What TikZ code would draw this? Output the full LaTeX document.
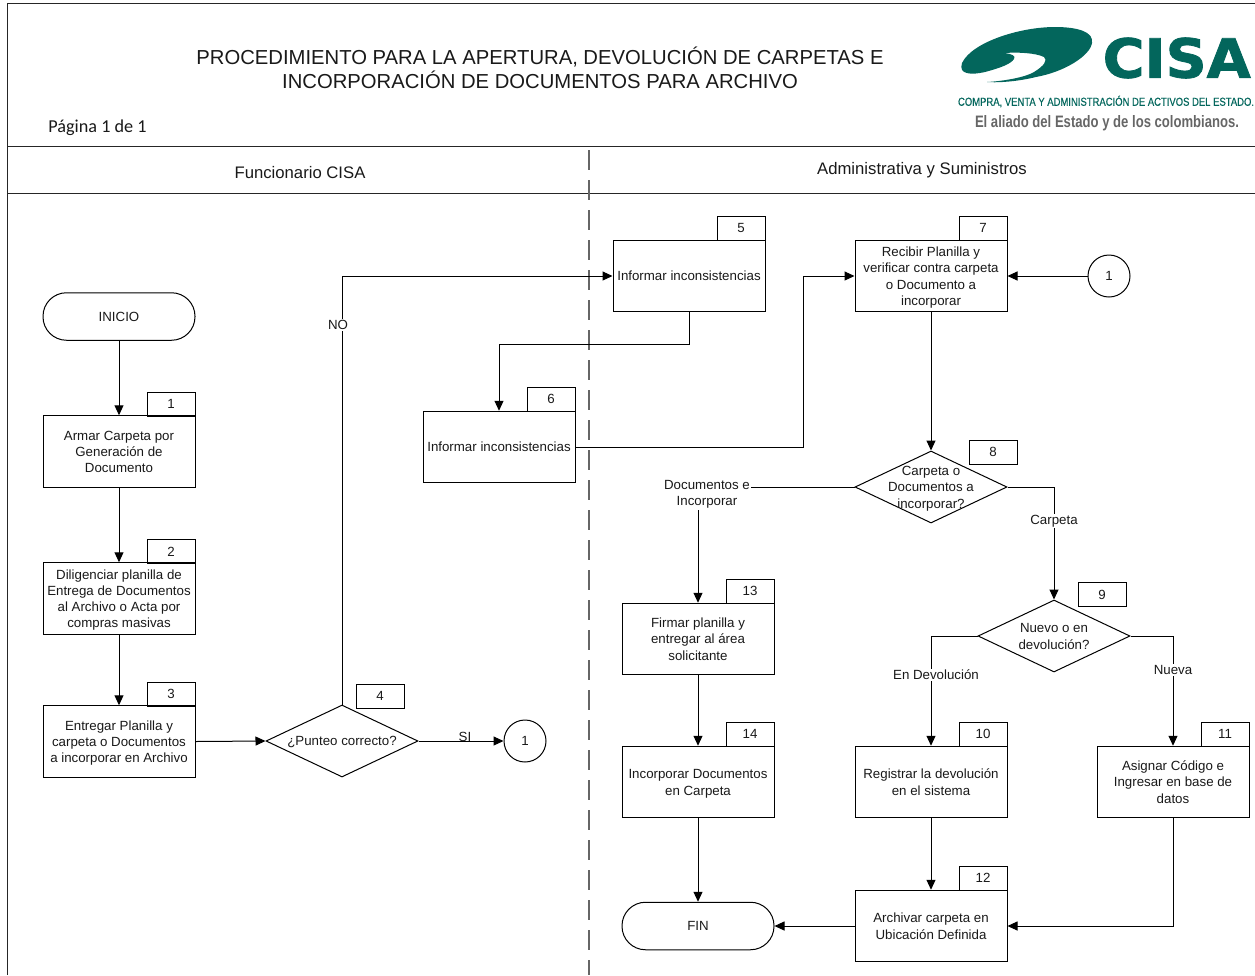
\documentclass[tikz,border=0pt]{standalone}
\usepackage{fontspec}
\setmainfont{Liberation Sans}
\newfontfamily\carlitofont{Carlito}
\newfontfamily\heavyfont[FakeBold=1.5]{DejaVu Sans Bold}
\newfontfamily\tagfont[FakeBold=0.5]{Liberation Sans}
\usetikzlibrary{arrows.meta,shapes.geometric,calc}
\definecolor{cisagreen}{HTML}{03665C}
\definecolor{cisagray}{HTML}{666666}
\newcommand\dn[1]{\raisebox{-1.7pt}[\height][\depth]{\begin{tabular}{@{}c@{}}#1\end{tabular}}}
\tikzset{
  every node/.style={font=\fontsize{13.3}{16.3}\selectfont,align=center,text=black!90},
  procbox/.style={draw=black,line width=1pt,minimum width=152pt,minimum height=71.5pt,inner sep=1pt},
  numtab/.style={draw=black,line width=1pt,minimum width=48pt,minimum height=24pt,inner sep=0pt},
  termbox/.style={draw=black,line width=1pt,rounded corners=23.5pt,minimum width=152pt,minimum height=47.5pt,inner sep=0pt},
  decbox/.style={draw=black,line width=1pt,diamond,aspect=2.11,minimum width=152pt,minimum height=72pt,inner xsep=-30pt,inner ysep=-20pt},
  conn/.style={draw=black,line width=1pt,circle,minimum size=42pt,inner sep=0pt},
  flow/.style={draw=black,line width=1pt,-{Triangle[length=10pt,width=9pt]}},
  lbl/.style={fill=white,inner sep=1pt},
  rule/.style={draw=black!85,line width=1pt}
}
\begin{document}
\begin{tikzpicture}[x=1pt,y=-1pt]
\useasboundingbox (0,0) rectangle (1255,975);
\begin{scope}[shift={(-0.5,0)}]
% frame
\draw[rule] (7.5,975) -- (7.5,3) -- (1256,3);
\draw[rule] (7.5,146) -- (1256,146);
\draw[rule] (7.5,193) -- (1256,193);
\draw[draw=black!60,line width=1.4pt,dash pattern=on 20pt off 10pt] (589.5,150) -- (589.5,975);
% header
\node[font=\fontsize{20.25}{24.5}\selectfont] (title) at (540.5,68) {PROCEDIMIENTO PARA LA APERTURA, DEVOLUCIÓN DE CARPETAS E\\INCORPORACIÓN DE DOCUMENTOS PARA ARCHIVO};
\node[font=\carlitofont\fontsize{18.2}{21}\selectfont] (page) at (98,127.5) {Página 1 de 1};
\node[font=\fontsize{16.7}{19}\selectfont] (laneA) at (300.5,173) {Funcionario CISA};
\node[font=\fontsize{16.7}{19}\selectfont] (laneB) at (922.5,170) {Administrativa y Suministros};
% logo
\fill[cisagreen] (962.5,63) .. controls (972.5,42) and (1020.5,27) .. (1055.5,27)
  .. controls (1078.5,27) and (1094.5,32) .. (1092.5,43)
  .. controls (1090.5,56) and (1064.5,72) .. (1036.5,77)
  .. controls (1020.5,81) and (1000.5,83) .. (987.5,82)
  .. controls (1005.5,81) and (1026.5,77) .. (1034.5,72)
  .. controls (1044.5,66) and (1048.5,60) .. (1044.5,57)
  .. controls (1036.5,53) and (1018.5,52) .. (1005.5,53)
  .. controls (1012.5,54) and (1016.5,56) .. (1014.5,59)
  .. controls (1011.5,64) and (1000.5,68) .. (985.5,72)
  .. controls (972.5,75) and (958.5,75) .. (962.5,63) -- cycle;
\node[text=cisagreen,inner sep=0pt,anchor=west] (brand) at (1103,58) {\resizebox{148pt}{40pt}{\heavyfont CISA}};
\node[text=cisagreen,inner sep=0pt] (tag1) at (1106.5,101.5) {\resizebox{296pt}{10pt}{\tagfont COMPRA, VENTA Y ADMINISTRACIÓN DE ACTIVOS DEL ESTADO.}};
\node[text=cisagray,inner sep=0pt] (tag2) at (1107.5,123.5) {\resizebox{264pt}{12pt}{\bfseries El aliado del Estado y de los colombianos.}};
% nodes
\node[termbox] (inicio) at (119.5,316.5) {\dn{INICIO}};
\node[procbox] (b1) at (119.5,451.5) {\dn{Armar Carpeta por\\Generación de\\Documento}};
\node[numtab] (t1) at (171.5,404) {\dn{1}};
\node[procbox] (b2) at (119.5,598.5) {\dn{Diligenciar planilla de\\Entrega de Documentos\\al Archivo o Acta por\\compras masivas}};
\node[numtab] (t2) at (171.5,551.5) {\dn{2}};
\node[procbox] (b3) at (119.5,741.5) {\dn{Entregar Planilla y\\carpeta o Documentos\\a incorporar en Archivo}};
\node[numtab] (t3) at (171.5,694) {\dn{3}};
\node[decbox] (d4) at (342.5,741) {\dn{¿Punteo correcto?}};
\node[numtab] (t4) at (380.5,696) {\dn{4}};
\node[conn] (c1) at (525.5,741) {\dn{1}};
\node[procbox] (b5) at (689.5,276) {\dn{Informar inconsistencias}};
\node[numtab] (t5) at (741.5,228) {\dn{5}};
\node[procbox] (b6) at (499.5,447) {\dn{Informar inconsistencias}};
\node[numtab] (t6) at (551.5,399) {\dn{6}};
\node[procbox] (b7) at (931.5,276) {\dn{Recibir Planilla y\\verificar contra carpeta\\o Documento a\\incorporar}};
\node[numtab] (t7) at (983.5,228) {\dn{7}};
\node[conn] (c2) at (1109.5,276) {\dn{1}};
\node[decbox] (d8) at (931.5,487) {\dn{Carpeta o\\Documentos a\\incorporar?}};
\node[numtab] (t8) at (993.5,452) {\dn{8}};
\node[decbox] (d9) at (1054.5,636) {\dn{Nuevo o en\\devolución?}};
\node[numtab] (t9) at (1102.5,594.5) {\dn{9}};
\node[procbox] (b13) at (698.5,639) {\dn{Firmar planilla y\\entregar al área\\solicitante}};
\node[numtab] (t13) at (750.5,591) {\dn{13}};
\node[procbox] (b14) at (698.5,782) {\dn{Incorporar Documentos\\en Carpeta}};
\node[numtab] (t14) at (750.5,734) {\dn{14}};
\node[termbox] (fin) at (698.5,926) {\dn{FIN}};
\node[procbox] (b10) at (931.5,782) {\dn{Registrar la devolución\\en el sistema}};
\node[numtab] (t10) at (983.5,734) {\dn{10}};
\node[procbox] (b11) at (1173.5,782) {\dn{Asignar Código e\\Ingresar en base de\\datos}};
\node[numtab] (t11) at (1225.5,734) {\dn{11}};
\node[procbox] (b12) at (931.5,926) {\dn{Archivar carpeta en\\Ubicación Definida}};
\node[numtab] (t12) at (983.5,878) {\dn{12}};
% connectors
\draw[flow] (inicio) -- (b1);
\draw[flow] (b1) -- (b2);
\draw[flow] (b2) -- (b3);
\draw[flow] (b3.east) -- (d4.west);
\draw[flow] (d4.east) -- (c1.west);
\draw[flow] (d4.north) |- (b5.west);
\draw[flow] (b5.south) -- ++(0,32) -| (b6.north);
\coordinate (jog) at (803.5,276);
\draw[flow] (b6.east) -| (jog) -- (b7.west);
\draw[flow] (c2.west) -- (b7.east);
\draw[flow] (b7.south) -- (d8.north);
\draw[flow] (d8.west) -| (b13.north);
\draw[flow] (d8.east) -| (d9.north);
\draw[flow] (d9.west) -| (b10.north);
\draw[flow] (d9.east) -| (b11.north);
\draw[flow] (b13) -- (b14);
\draw[flow] (b14) -- (fin);
\draw[flow] (b10) -- (b12);
\draw[flow] (b11.south) |- (b12.east);
\draw[flow] (b12.west) -- (fin.east);
% labels
\node[lbl] (lno) at (338.5,325) {NO};
\node[lbl,fill=none] (lsi) at (465.5,737) {SI};
\node[lbl] (ldoc) at (707.5,494.5) {Documentos e\\Incorporar};
\node[lbl] (lcar) at (1054.5,521) {Carpeta};
\node[lbl] (ldev) at (936.5,675) {En Devolución};
\node[lbl] (lnue) at (1173.5,670) {Nueva};
\end{scope}
\end{tikzpicture}
\end{document}
